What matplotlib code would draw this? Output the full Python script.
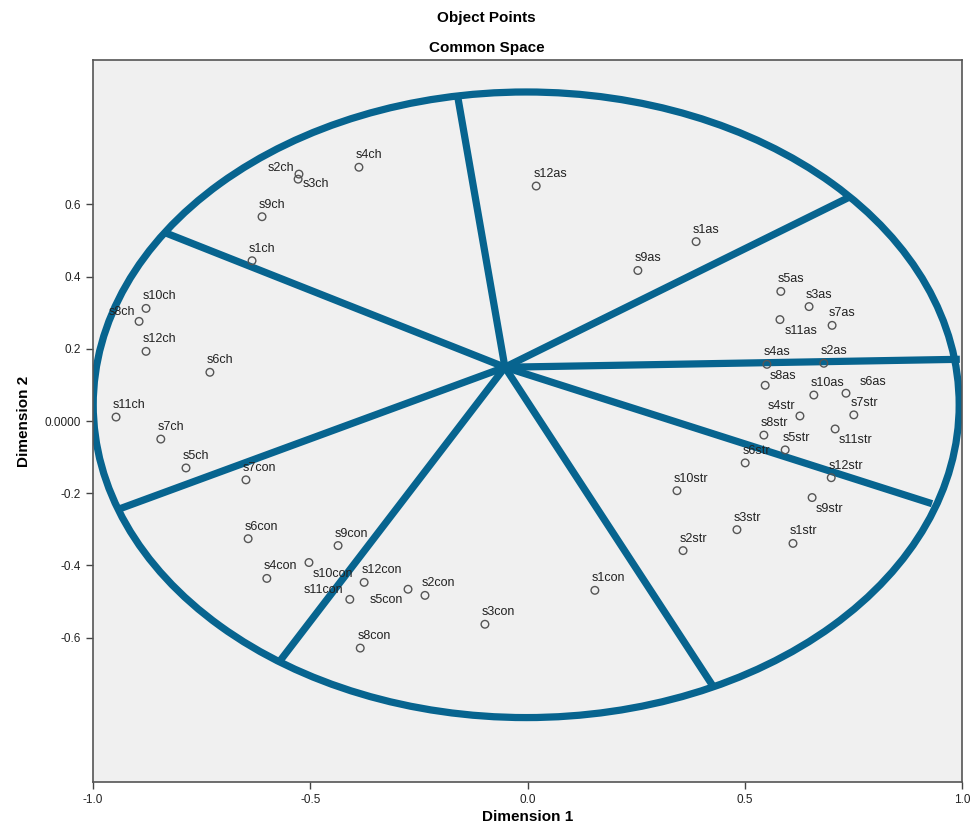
import matplotlib
matplotlib.use("Agg")
import matplotlib.pyplot as plt
from matplotlib.patches import Ellipse

plt.rcParams['font.family'] = ['Liberation Sans', 'DejaVu Sans']

# object labels and coordinates (dimension 1, dimension 2)
ch_labels = ["s1ch", "s2ch", "s3ch", "s4ch", "s5ch", "s6ch",
             "s7ch", "s8ch", "s9ch", "s10ch", "s11ch", "s12ch"]
ch_dim1 = [-0.634, -0.526, -0.528, -0.388, -0.786, -0.731,
           -0.844, -0.894, -0.611, -0.878, -0.947, -0.878]
ch_dim2 = [0.444, 0.684, 0.670, 0.703, -0.130, 0.135,
           -0.050, 0.276, 0.566, 0.312, 0.011, 0.193]

con_labels = ["s1con", "s2con", "s3con", "s4con", "s5con", "s6con",
              "s7con", "s8con", "s9con", "s10con", "s11con", "s12con"]
con_dim1 = [0.155, -0.236, -0.098, -0.600, -0.275, -0.643,
            -0.648, -0.385, -0.436, -0.503, -0.409, -0.376]
con_dim2 = [-0.469, -0.483, -0.563, -0.436, -0.466, -0.326,
            -0.163, -0.629, -0.345, -0.392, -0.494, -0.447]

as_labels = ["s1as", "s2as", "s3as", "s4as", "s5as", "s6as",
             "s7as", "s8as", "s9as", "s10as", "s11as", "s12as"]
as_dim1 = [0.388, 0.682, 0.648, 0.551, 0.583, 0.733,
           0.701, 0.547, 0.254, 0.659, 0.581, 0.020]
as_dim2 = [0.497, 0.160, 0.317, 0.157, 0.359, 0.077,
           0.265, 0.099, 0.417, 0.072, 0.281, 0.651]

str_labels = ["s1str", "s2str", "s3str", "s4str", "s5str", "s6str",
              "s7str", "s8str", "s9str", "s10str", "s11str", "s12str"]
str_dim1 = [0.611, 0.358, 0.482, 0.627, 0.593, 0.501,
            0.751, 0.544, 0.655, 0.344, 0.708, 0.699]
str_dim2 = [-0.339, -0.359, -0.301, 0.014, -0.080, -0.116,
            0.017, -0.039, -0.212, -0.193, -0.022, -0.157]

# hand-drawn region partition: hub and spoke end points
hub = (-0.052, 0.149)
spoke_x = [-0.162, 0.742, 0.995, 0.931, 0.425, -0.570, -0.945, -0.839]
spoke_y = [0.908, 0.621, 0.171, -0.229, -0.731, -0.665, -0.246, 0.524]

x_ticks = [-1.0, -0.5, 0.0, 0.5, 1.0]
x_tick_labels = ["-1.0", "-0.5", "0.0", "0.5", "1.0"]
y_ticks = [0.6, 0.4, 0.2, 0.0, -0.2, -0.4, -0.6]
y_tick_labels = ["0.6", "0.4", "0.2", "0.0000", "-0.2", "-0.4", "-0.6"]

labels = ch_labels + con_labels + as_labels + str_labels
dim1 = ch_dim1 + con_dim1 + as_dim1 + str_dim1
dim2 = ch_dim2 + con_dim2 + as_dim2 + str_dim2

# label placement where the default (above the point) would collide
label_offsets = {
    "s3ch": (5, -5, "left"),
    "s2ch": (-5, 6, "right"),
    "s8ch": (-4, 9, "right"),
    "s11as": (5, -11, "left"),
    "s8as": (4, 9, "left"),
    "s6as": (14, 11, "left"),
    "s9str": (4, -11, "left"),
    "s11str": (4, -11, "left"),
    "s4str": (-5, 10, "right"),
    "s10con": (4, -11, "left"),
    "s11con": (-7, 9, "right"),
    "s5con": (-5, -11, "right"),
}

line_color = "#07648f"

fig = plt.figure(figsize=(9.73, 8.27), dpi=100)
ax = fig.add_axes([0.0956, 0.0544, 0.8931, 0.873])
ax.set_facecolor("#f0f0f0")

ax.add_patch(Ellipse((-0.003, 0.045), 1.993, 1.733, fill=False,
                     edgecolor=line_color, linewidth=5.2, zorder=2))
for sx, sy in zip(spoke_x, spoke_y):
    ax.plot([hub[0], sx], [hub[1], sy], color=line_color, linewidth=5.2,
            solid_capstyle="butt", zorder=2)

ax.scatter(dim1, dim2, s=30, facecolors="none", edgecolors="#555555",
           linewidths=1.0, zorder=3)

for lab, x, y in zip(labels, dim1, dim2):
    dx, dy, ha = label_offsets.get(lab, (-3, 12, "left"))
    ax.annotate(lab, (x, y), xytext=(dx, dy), textcoords="offset pixels",
                ha=ha, va="center", fontsize=9, color="#222222", zorder=4)

ax.set_xlim(-1.0, 1.0)
ax.set_ylim(-1.0, 1.0)
ax.set_xticks(x_ticks)
ax.set_xticklabels(x_tick_labels)
ax.set_yticks(y_ticks)
ax.set_yticklabels(y_tick_labels)
ax.tick_params(labelsize=8.5, length=5, width=1, color="#444444", labelcolor="#222222")
for sp in ax.spines.values():
    sp.set_color("#555555")
    sp.set_linewidth(1.2)

ax.set_xlabel("Dimension 1", fontsize=11, fontweight="bold", labelpad=3)
ax.set_ylabel("Dimension 2", fontsize=11, fontweight="bold", labelpad=10)
fig.text(0.5, 0.978, "Object Points", ha="center", va="center",
         fontsize=11, fontweight="bold")
fig.text(0.5, 0.942, "Common Space", ha="center", va="center",
         fontsize=11, fontweight="bold")

fig.savefig("out.png", dpi=100)
